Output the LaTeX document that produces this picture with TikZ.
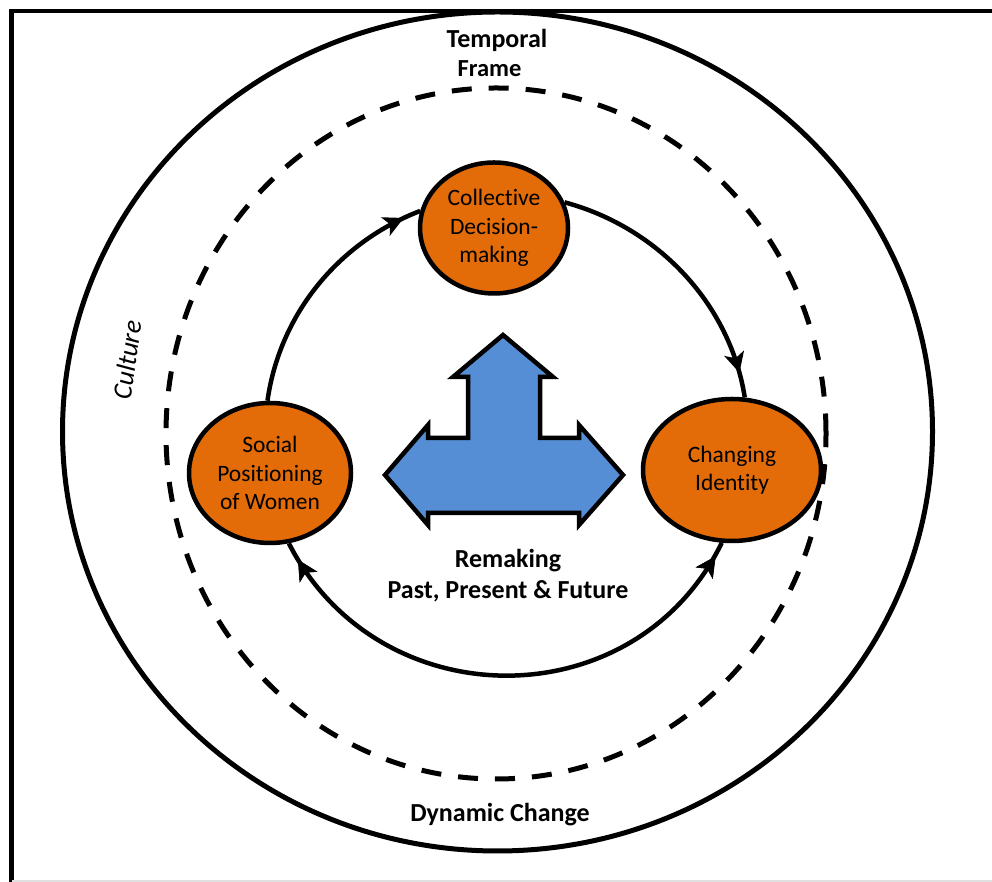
\documentclass[tikz,border=0pt]{standalone}
\usepackage{fontspec}
\setmainfont{Carlito}[Ligatures=NoCommon]
\usetikzlibrary{shapes.geometric}
\usetikzlibrary{arrows.meta}
\usetikzlibrary{decorations.markings}

\definecolor{stageorange}{HTML}{E36C09}
\definecolor{arrowblue}{HTML}{558ED5}

\begin{document}
\begin{tikzpicture}[x=1pt,y=1pt,
		>={Stealth[length=20pt,width=20pt,inset=5pt]},
		stage/.style={ellipse,draw=black,line width=4.5pt,fill=stageorange,inner sep=0pt,
			align=center,font=\fontsize{23.5}{28.5}\selectfont},
		heading/.style={font=\bfseries\fontsize{26}{31}\selectfont,align=center},
		cycleline/.style={line width=4.5pt},
		tipat/.style={decoration={markings,mark=at position #1 with {\arrow{>}}},
			postaction={decorate}},
		tipback/.style={decoration={markings,mark=at position #1 with {\arrow{<}}},
			postaction={decorate}}]
		\useasboundingbox (0,0) rectangle (992,882);
		
		% draw frame
		\draw[line width=4.5pt] (992,871) -- (11.5,871) -- (11.5,0);
		\draw[black!12,line width=1.5pt] (11.5,1) -- (992,1);
		
		% draw outer and dashed rings
		\draw[line width=5pt] (497.5,450.5) ellipse [x radius=435,y radius=419.5];
		\draw[line width=5pt,dash pattern=on 20pt off 17pt] (496,448.5) ellipse [x radius=330,y radius=345.5];
		
		% draw nodes
		\node[stage,minimum width=148,minimum height=131] (col) at (494,654) {Collective\\Decision-\\making};
		\node[stage,minimum width=178,minimum height=142] (chg) at (732,412) {Changing\\Identity};
		\node[stage,minimum width=162,minimum height=140] (soc) at (270,409) {Social\\Positioning\\of Women};
		
		% draw cycle
		\draw[cycleline,tipat=0.93] (soc.92) to[out=82,in=201,looseness=0.92] (col.167);
		\draw[cycleline,tipat=0.91] (col.20) to[out=-15,in=99,looseness=0.92] (chg.80);
		\draw[cycleline,tipback=0.065,tipat=0.965] (chg.262) to[out=-116,in=-63,looseness=1.17] (soc.285);
		
		% draw blue arrow
		\draw[line width=4.5pt,fill=arrowblue] (503,547) -- (553,505) -- (540,505) -- (540,444)
			-- (579,444) -- (579,457) -- (623,407) -- (579,357) -- (579,369)
			-- (428,369) -- (428,357) -- (385,407) -- (428,457) -- (428,444)
			-- (468,444) -- (468,505) -- (453,505) -- cycle;
		
		% draw labels
		\node[heading] (temporal) at (497,842) {Temporal};
		\node[heading,font=\bfseries\fontsize{24.5}{29}\selectfont] (frame) at (489.5,813) {Frame};
		\node[heading] (dynamic) at (500,67) {Dynamic Change};
		\node[heading] (remaking) at (508,306.5) {Remaking\\Past, Present \& Future};
		\node[rotate=82,font=\itshape\fontsize{27}{32}\selectfont] (culture) at (127,522) {Culture};
\end{tikzpicture}
\end{document}
